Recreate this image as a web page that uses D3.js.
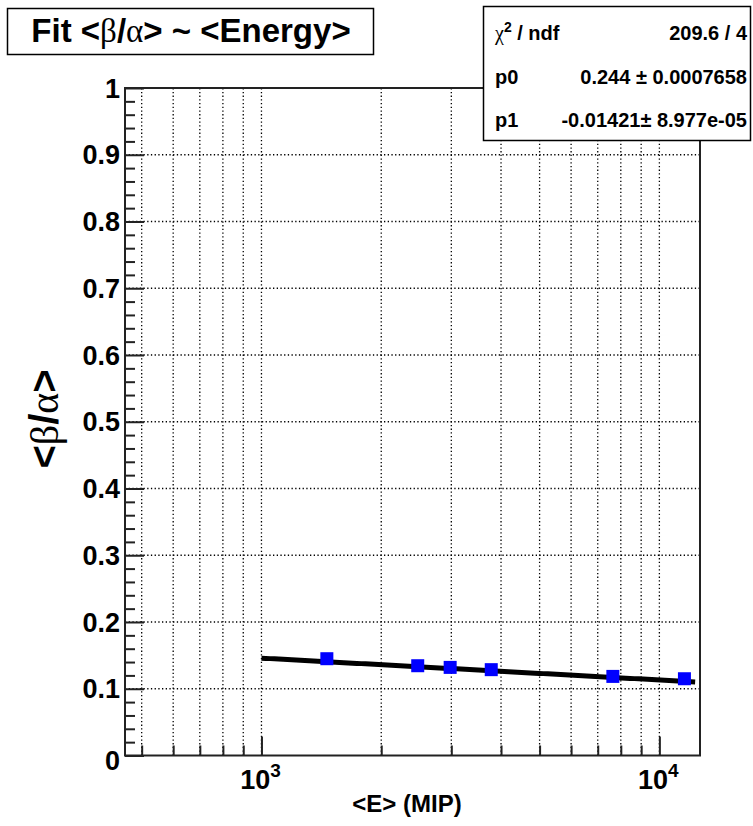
<!DOCTYPE html>
<html>
<head>
<meta charset="utf-8">
<script src="https://cdn.jsdelivr.net/npm/d3@7"></script>
<style>
  html, body { margin: 0; padding: 0; background: #fff; }
  svg { display: block; }
  text { font-family: "Liberation Sans", Arial, Helvetica, sans-serif; font-weight: bold; fill: #000; }
  .greek { font-family: "Liberation Serif", "Times New Roman", serif; font-weight: normal; }
</style>
</head>
<body>
<svg id="chart" width="753" height="826"></svg>
<script>
// Mean beta/alpha ratio versus mean shower energy (in MIP)
const energy    = [1460, 2470, 2980, 3780, 7640, 11560];
const betaAlpha = [0.145, 0.1345, 0.132, 0.1286, 0.1185, 0.115];

// Fit result: <beta/alpha> = p0 + p1 * ln(E)
const p0 = 0.244, p0Err = "0.0007658";
const p1 = -0.01421, p1Err = "8.977e-05";
const chi2 = "209.6", ndf = "4";
const fitRange = [1000, 12300];

// Axis ticks
const xMajorTicks = [1000, 10000];
const xMajorExp   = ["3", "4"];
const xMinorTicks = [500, 600, 700, 800, 900, 2000, 3000, 4000, 5000, 6000, 7000, 8000, 9000];
const yMajorTicks = [0, 0.1, 0.2, 0.3, 0.4, 0.5, 0.6, 0.7, 0.8, 0.9, 1];
const yTickLabels = ["0", "0.1", "0.2", "0.3", "0.4", "0.5", "0.6", "0.7", "0.8", "0.9", "1"];
const yMinorTicks = d3.range(0, 50).map(i => i * 0.02).filter((v, i) => i % 5 !== 0);

const svg = d3.select("#chart");
const frame = { left: 125, right: 700, top: 88, bottom: 755.5 };

const x = d3.scaleLog().domain([454, 12650]).range([frame.left, frame.right]);
const y = d3.scaleLinear().domain([0, 1]).range([frame.bottom, frame.top]);

svg.append("rect").attr("width", 753).attr("height", 826).attr("fill", "#fff");

svg.append("defs").append("clipPath").attr("id", "plotClip")
  .append("rect")
  .attr("x", frame.left).attr("y", frame.top)
  .attr("width", frame.right - frame.left).attr("height", frame.bottom - frame.top);

// Dotted grid
const grid = svg.append("g").attr("stroke", "#000").attr("stroke-width", 1.3)
  .attr("stroke-dasharray", "1.3,2.4").attr("fill", "none");
grid.selectAll("line.vx").data(xMinorTicks.concat(xMajorTicks)).join("line")
  .attr("x1", d => x(d)).attr("x2", d => x(d))
  .attr("y1", frame.bottom).attr("y2", frame.top);
grid.selectAll("line.hy").data(yMajorTicks.slice(1, -1)).join("line")
  .attr("x1", frame.left).attr("x2", frame.right)
  .attr("y1", d => y(d)).attr("y2", d => y(d));

// Fit curve
const fitX = d3.range(0, 101).map(i => fitRange[0] * Math.pow(fitRange[1] / fitRange[0], i / 100));
svg.append("path")
  .datum(fitX)
  .attr("clip-path", "url(#plotClip)")
  .attr("fill", "none").attr("stroke", "#000").attr("stroke-width", 5)
  .attr("d", d3.line().x(d => x(d)).y(d => y(p0 + p1 * Math.log(d))));

// Data markers
svg.append("g").selectAll("rect").data(energy).join("rect")
  .attr("x", (d, i) => x(d) - 6.5)
  .attr("y", (d, i) => y(betaAlpha[i]) - 6.5)
  .attr("width", 13).attr("height", 13)
  .attr("fill", "#0000ff");

// Axes (ticks point into the frame)
const axisColor = "#222";
function styleAxis(g) {
  g.select(".domain").remove();
  g.selectAll(".tick line").attr("stroke", axisColor).attr("stroke-width", 2);
}
svg.append("g").attr("transform", `translate(0,${frame.bottom})`)
  .call(d3.axisBottom(x).tickValues(xMinorTicks).tickSizeInner(-10).tickSizeOuter(0).tickFormat(""))
  .call(styleAxis);
svg.append("g").attr("transform", `translate(0,${frame.bottom})`)
  .call(d3.axisBottom(x).tickValues(xMajorTicks).tickSizeInner(-19).tickSizeOuter(0).tickFormat(""))
  .call(styleAxis);
svg.append("g").attr("transform", `translate(${frame.left},0)`)
  .call(d3.axisLeft(y).tickValues(yMinorTicks).tickSizeInner(-10).tickSizeOuter(0).tickFormat(""))
  .call(styleAxis);
svg.append("g").attr("transform", `translate(${frame.left},0)`)
  .call(d3.axisLeft(y).tickValues(yMajorTicks).tickSizeInner(-19).tickSizeOuter(0).tickFormat(""))
  .call(styleAxis);

// Frame
svg.append("rect")
  .attr("x", frame.left).attr("y", frame.top)
  .attr("width", frame.right - frame.left).attr("height", frame.bottom - frame.top)
  .attr("fill", "none").attr("stroke", axisColor).attr("stroke-width", 2);

// Y tick labels
svg.append("g").selectAll("text").data(yMajorTicks).join("text")
  .attr("x", 120)
  .attr("y", d => y(d) + (d === 0 ? 14 : 9.5))
  .attr("text-anchor", "end")
  .style("font-size", "27px")
  .text((d, i) => yTickLabels[i]);

// X tick labels 10^n
const xl = svg.append("g").selectAll("text").data(xMajorTicks).join("text")
  .attr("x", d => x(d) - 1)
  .attr("y", 789)
  .attr("text-anchor", "middle")
  .style("font-size", "27px");
xl.append("tspan").text("10");
xl.append("tspan").attr("dy", -12).style("font-size", "19px").text((d, i) => xMajorExp[i]);

// Axis titles
svg.append("text")
  .attr("x", 407).attr("y", 812)
  .attr("text-anchor", "middle")
  .style("font-size", "24px")
  .text("<E> (MIP)");

const yt = svg.append("text")
  .attr("transform", "translate(58,419) rotate(-90)")
  .attr("text-anchor", "middle")
  .style("font-size", "40px");
yt.append("tspan").text("<");
yt.append("tspan").attr("class", "greek").text("β");
yt.append("tspan").text("/");
yt.append("tspan").attr("class", "greek").text("α");
yt.append("tspan").text(">");

// Title box
svg.append("rect")
  .attr("x", 7.5).attr("y", 8.5).attr("width", 366).attr("height", 46)
  .attr("fill", "#fff").attr("stroke", "#000").attr("stroke-width", 1.5);
const tt = svg.append("text")
  .attr("x", 191).attr("y", 42)
  .attr("text-anchor", "middle")
  .style("font-size", "33px");
tt.append("tspan").text("Fit <");
tt.append("tspan").attr("class", "greek").text("β");
tt.append("tspan").text("/");
tt.append("tspan").attr("class", "greek").text("α");
tt.append("tspan").text("> ~ <Energy>");

// Fit statistics box
const stats = svg.append("g");
stats.append("rect")
  .attr("x", 483.5).attr("y", 6.5).attr("width", 267).attr("height", 134)
  .attr("fill", "#fff").attr("stroke", "#000").attr("stroke-width", 1.5);
const rowY = [40, 84, 127];
const statValues = [
  `${chi2} / ${ndf}`,
  `${p0} ± ${p0Err}`,
  `${p1}± ${p1Err}`
];
const chiLabel = stats.append("text").attr("x", 495).attr("y", rowY[0]).style("font-size", "20px");
chiLabel.append("tspan").attr("class", "greek").text("χ");
chiLabel.append("tspan").attr("dy", -8).style("font-size", "14px").text("2");
chiLabel.append("tspan").attr("dy", 8).text(" / ndf");
stats.append("text").attr("x", 495).attr("y", rowY[1]).style("font-size", "20px").text("p0");
stats.append("text").attr("x", 495).attr("y", rowY[2]).style("font-size", "20px").text("p1");
stats.selectAll("text.val").data(statValues).join("text")
  .attr("class", "val")
  .attr("x", 747).attr("y", (d, i) => rowY[i])
  .attr("text-anchor", "end")
  .style("font-size", "20px")
  .text(d => d);
</script>
</body>
</html>
